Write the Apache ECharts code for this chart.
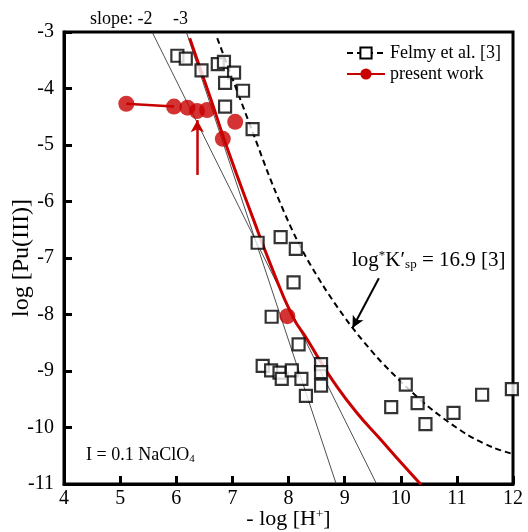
<!DOCTYPE html>
<html><head><meta charset="utf-8">
<script src="https://cdn.jsdelivr.net/npm/echarts@6/dist/echarts.min.js"></script>
<style>html,body{margin:0;padding:0;background:#fff}#c{width:528px;height:532px}</style>
</head><body><div id="c"></div>
<script>
// Felmy et al. [3] experimental points
const felmyX = [6.02,6.17,6.45,6.74,6.85,7.03,6.87,7.19,6.87,7.36,7.45,7.86,8.13,8.09,7.70,8.18,7.54,7.69,7.84,7.88,8.06,8.23,8.31,8.58,8.58,8.58,10.09,9.83,10.30,10.44,10.94,11.45,11.98];
const felmyY = [-3.42,-3.47,-3.68,-3.57,-3.53,-3.72,-3.90,-4.04,-4.32,-4.72,-6.73,-6.63,-6.84,-7.43,-8.04,-8.53,-8.91,-8.99,-9.03,-9.14,-8.99,-9.14,-9.44,-8.88,-9.02,-9.26,-9.24,-9.64,-9.57,-9.94,-9.74,-9.42,-9.32];
// present work points
const presentX = [5.11,5.96,6.20,6.37,6.55,7.05,6.83,7.98];
const presentY = [-4.27,-4.32,-4.34,-4.40,-4.38,-4.59,-4.89,-8.03];
// Felmy model curve (dashed)
const felmyCurveX = [6.73,7.38,7.74,8.16,8.61,9.09,9.59,10.12,10.59,11.19,11.66,12.0];
const felmyCurveY = [-3.11,-4.82,-5.76,-6.70,-7.48,-8.17,-8.77,-9.30,-9.71,-10.13,-10.36,-10.47];
// present work fit curve (solid red)
const presentCurveX = [6.24,6.62,6.92,7.38,7.67,8.07,8.34,8.52,8.81,9.21,9.63,10.04,10.36];
const presentCurveY = [-3.11,-4.20,-5.09,-6.33,-7.09,-8.03,-8.45,-8.75,-9.20,-9.73,-10.20,-10.66,-11.01];
// slope reference lines
const slope2X = [5.57,9.57], slope2Y = [-3,-11];
const slope3X = [6.18,8.85], slope3Y = [-3,-11];
// arrows [x1,y1,x2,y2] (tail -> tip)
const redArrow = [6.375,-5.53,6.375,-4.56];
const blackArrow = [9.61,-7.36,9.14,-8.24];
// axis ticks
const xTicks = {min:4,max:12,interval:1};
const yTicks = {min:-11,max:-3,interval:1};

const zip = (xs, ys) => xs.map((x,i)=>[x, ys[i]]);
const FONT = '"Liberation Serif", "Times New Roman", serif';
const RED = '#c80000';

const chart = echarts.init(document.getElementById('c'), null, {renderer:'canvas'});
chart.setOption({
  animation:false,
  backgroundColor:'#fff',
  textStyle:{fontFamily:FONT},
  grid:{left:64,right:15,top:32,bottom:48,outerBoundsMode:'none',containLabel:false,show:true,borderColor:'#000',borderWidth:3,backgroundColor:'transparent'},
  xAxis:{type:'value',min:xTicks.min,max:xTicks.max,interval:xTicks.interval,
    axisLine:{lineStyle:{color:'#000',width:3}},
    axisTick:{inside:true,length:8,lineStyle:{color:'#000',width:3}},
    axisLabel:{color:'#000',fontSize:20,fontFamily:FONT,margin:5},
    splitLine:{show:false},
    name:'- log [H{sup|+}]',nameLocation:'middle',nameGap:24,nameMoveOverlap:false,
    nameTextStyle:{color:'#000',fontSize:22,fontFamily:FONT,verticalAlign:'top',
      rich:{sup:{fontSize:13,verticalAlign:'top',padding:[0,0,9,0],color:'#000',fontFamily:FONT}}}
  },
  yAxis:{type:'value',min:yTicks.min,max:yTicks.max,interval:yTicks.interval,
    axisLine:{lineStyle:{color:'#000',width:3}},
    axisTick:{inside:true,length:8,lineStyle:{color:'#000',width:3}},
    axisLabel:{color:'#000',fontSize:20,fontFamily:FONT,margin:10},
    splitLine:{show:false},
    name:'log [Pu(III)]',nameLocation:'middle',nameGap:30,nameRotate:90,nameMoveOverlap:false,
    nameTextStyle:{color:'#000',fontSize:24,fontFamily:FONT}
  },
  legend:{
    left:341,top:39,orient:'vertical',itemWidth:38,itemHeight:14,itemGap:3,
    textStyle:{fontSize:18,fontFamily:FONT,color:'#000'},
    data:['Felmy et al. [3]','present work']
  },
  series:[
    {type:'line',name:'slope2',data:zip(slope2X,slope2Y),symbol:'none',lineStyle:{color:'#222',width:0.8},z:1,silent:true},
    {type:'line',name:'slope3',data:zip(slope3X,slope3Y),symbol:'none',lineStyle:{color:'#222',width:0.8},z:1,silent:true},
    {type:'line',name:'Felmy et al. [3]',data:zip(felmyCurveX,felmyCurveY),smooth:0.3,showSymbol:false,symbol:'emptyRect',symbolSize:11,
      itemStyle:{color:'#000',borderWidth:2},
      lineStyle:{color:'#000',width:2,type:[6,4]},z:2},
    {type:'line',name:'present work',data:zip(presentCurveX,presentCurveY),smooth:0.5,showSymbol:false,symbol:'circle',symbolSize:14,
      itemStyle:{color:RED},
      lineStyle:{color:RED,width:3},z:3},
    {type:'line',name:'presentSeg',data:zip(presentX.slice(0,2),presentY.slice(0,2)),symbol:'none',lineStyle:{color:RED,width:2.5},z:3},
    {type:'scatter',name:'felmyPts',data:zip(felmyX,felmyY),symbol:'rect',symbolSize:12,
      itemStyle:{color:'#fff',borderColor:'#000',borderWidth:2.2},z:4,clip:false},
    {type:'scatter',name:'presentPts',data:zip(presentX,presentY),symbol:'circle',symbolSize:16,
      itemStyle:{color:RED},z:5,clip:false},
    {type:'line',name:'arrows',data:[],z:6,
      markLine:{silent:true,animation:false,label:{show:false},
        data:[
          [{coord:[redArrow[0],redArrow[1]],symbol:'none',lineStyle:{color:RED,width:2.5,type:'solid'}},
           {coord:[redArrow[2],redArrow[3]],symbol:'arrow',symbolSize:[10,12]}],
          [{coord:[blackArrow[0],blackArrow[1]],symbol:'none',lineStyle:{color:'#000',width:2,type:'solid'}},
           {coord:[blackArrow[2],blackArrow[3]],symbol:'arrow',symbolSize:[9,12]}]
        ]}}
  ],
  graphic:[
    {type:'text',left:90,top:10,style:{text:'slope: -2',font:'18px "Liberation Serif"',fill:'#000'}},
    {type:'text',left:173,top:10,style:{text:'-3',font:'18px "Liberation Serif"',fill:'#000'}},
    {type:'text',left:352,top:249,style:{
      text:'log{sup|*}K′{sub|sp} = 16.9 [3]',font:'21px "Liberation Serif"',fill:'#000',
      rich:{sup:{fontSize:13,verticalAlign:'top',padding:[0,0,9,0],fontFamily:FONT},
            sub:{fontSize:13,verticalAlign:'bottom',padding:[9,0,0,0],fontFamily:FONT}}}},
    {type:'text',left:86,top:446,style:{
      text:'I = 0.1 NaClO{sub|4}',font:'18px "Liberation Serif"',fill:'#000',
      rich:{sub:{fontSize:11,verticalAlign:'bottom',padding:[8,0,0,0],fontFamily:FONT}}}}
  ]
});
</script></body></html>
